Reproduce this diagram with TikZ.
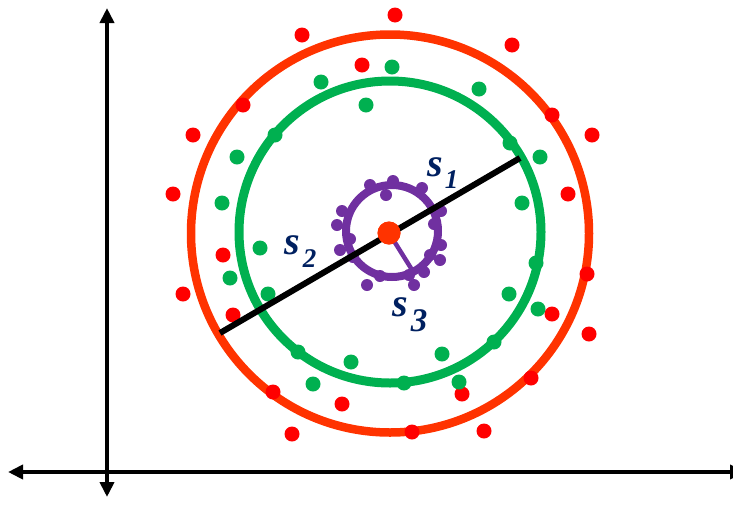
\documentclass[tikz,border=0pt]{standalone}
\usepackage{fontspec}
\setmainfont{Liberation Serif}
\usetikzlibrary{arrows.meta}
\definecolor{ringred}{HTML}{FF3300}
\definecolor{dotred}{HTML}{FF0000}
\definecolor{okgreen}{HTML}{00B050}
\definecolor{okpurple}{HTML}{7030A0}
\definecolor{navy}{HTML}{002060}
\tikzset{
  axis/.style={line width=4.5pt,-{Triangle[length=15pt,width=14pt]}},
  reddot/.style={fill=dotred},
  greendot/.style={fill=okgreen},
  purpledot/.style={fill=okpurple},
  lbl/.style={text=navy,font=\fontsize{40}{40}\selectfont\bfseries\itshape,inner sep=0pt,anchor=base west},
}
\begin{document}
\begin{tikzpicture}[x=1pt,y=-1pt]
\useasboundingbox (0,0) rectangle (733,504);
% axes
\coordinate (ytop) at (107,8);
\coordinate (ybot) at (107,497);
\coordinate (xl) at (8,472);
\coordinate (xr) at (745,472);
\coordinate (o) at (107,472);
\draw[axis] (o) -- (ytop);
\draw[axis] (o) -- (ybot);
\draw[axis] (o) -- (xl);
\draw[axis] (o) -- (xr);
% big circles
\draw[ringred,line width=8.5pt] (390,233.5) circle[radius=199];
\draw[okgreen,line width=9pt] (390,232) circle[radius=151];
% red dots
\foreach \p in {(395,15),(302,35),(512,45),(362,65),(243,105),(193,135),(552,115),(592,135),
  (173,194),(568,194),(223,255),(587,274),(183,294),(552,314),(233,315),(589,334),
  (531,378),(273,392),(462,394),(342,404),(412,432),(292,434),(484,431)}
  \fill[reddot] \p circle[radius=7.5];
% green dots
\foreach \p in {(392,67),(321,82),(479,89),(366,105),(275,135),(510,143),(237,157),(540,157),
  (222,203),(522,203),(260,248),(536,263),(230,278),(268,294),(509,294),(538,309),
  (298,352),(494,342),(351,362),(442,354),(404,383),(313,384),(459,382)}
  \fill[greendot] \p circle[radius=7.5];
% purple ring
\draw[okpurple,line width=8pt] (392,231) circle[radius=46];
\foreach \p in {(370,185),(393,181),(386,195),(422,188),(441,211),(434,224),(342,211),(337,225),
  (350,239),(340,250),(353,257),(430,255),(440,260),(424,272),(409,275),(414,285),
  (380,276),(367,285),(441,245)}
  \fill[purpledot] \p circle[radius=6];
% diameter
\coordinate (d1) at (220,333);
\coordinate (d2) at (520,158);
\draw[black,line width=6pt] (d1) -- (d2);
% radius
\node[circle,fill=ringred,minimum size=23pt,inner sep=0pt] (c) at (389,233) {};
\coordinate (r3) at (414,273);
\draw[okpurple,line width=4.5pt] (c.center) -- (r3);
\node[circle,fill=ringred,minimum size=23pt,inner sep=0pt] at (c) {};
% labels
\node[lbl] (s1) at (427,176) {s\kern2pt\raisebox{-12pt}{\fontsize{27}{27}\selectfont 1}};
\node[lbl] (s2) at (284,254) {s\kern3pt\raisebox{-13pt}{\fontsize{27}{27}\selectfont 2}};
\node[lbl] (s3) at (392,316) {s\kern3pt\raisebox{-15pt}{\fontsize{33}{33}\selectfont 3}};
\end{tikzpicture}
\end{document}
